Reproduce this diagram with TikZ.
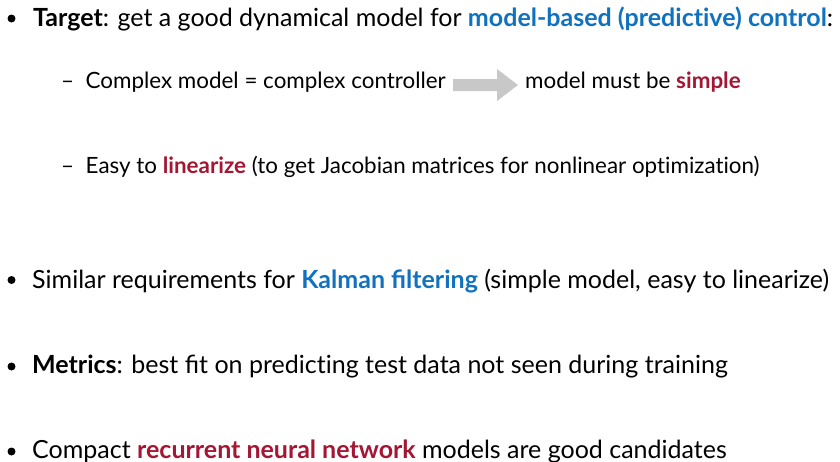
\documentclass[tikz,border=0pt]{standalone}
\usepackage{fontspec}
\setmainfont{Lato}[Ligatures=NoCommon]
\usetikzlibrary{positioning}
\definecolor{ctrlblue}{RGB}{16,114,190}
\definecolor{keyred}{RGB}{163,22,52}
\definecolor{arrowgray}{RGB}{200,200,200}
\newcommand{\hlblue}[1]{\textcolor{ctrlblue}{\textbf{#1}}}
\newcommand{\hlred}[1]{\textcolor{keyred}{\textbf{#1}}}
\tikzset{
  mainitem/.style={anchor=base west,inner sep=0pt,font=\fontsize{25}{30}\selectfont},
  subitem/.style={anchor=base west,inner sep=0pt,font=\fontsize{22.4}{27}\selectfont},
}
\begin{document}
\begin{tikzpicture}[x=1pt,y=-1pt,line join=round]
	  \useasboundingbox (0,0) rectangle (840,461);
	  % bullets of the main items
	  \foreach \y in {18.5,280,366.5,451.5}{
	      \fill (11.5,\y) circle (4pt);
	  }
	  \node[mainitem] (target) at (33,26.7) {\textbf{Target}: get a good dynamical model for \hlblue{model-based (predictive) control}:};
	  \node[subitem] (dash1) at (61,88.3) {–};
	  \node[subitem] (complex) at (85.5,88.3) {Complex model = complex controller};
	  \node[subitem] (simple) at (525,88.3) {model must be \hlred{simple}};
	  \node[subitem] (dash2) at (61,173.3) {–};
	  \node[subitem] (easy) at (85.5,173.3) {Easy to \hlred{linearize} (to get Jacobian matrices for nonlinear optimization)};
	  \node[mainitem] (kalman) at (32,288.3) {Similar requirements for \hlblue{Kalman ﬁltering} (simple model, easy to linearize)};
	  \node[mainitem] (metrics) at (32,373.3) {\textbf{Metrics}: best ﬁt on predicting test data not seen during training};
	  \node[mainitem] (rnn) at (32,458.3) {Compact \hlred{recurrent neural network} models are good candidates};
	  % block arrow between the two halves of the first sub item
	  \fill[arrowgray] (453,79)--(497,79)--(497,69)--(518,85)--(497,101)--(497,91)--(453,91)--cycle;
  \end{tikzpicture}
\end{document}
